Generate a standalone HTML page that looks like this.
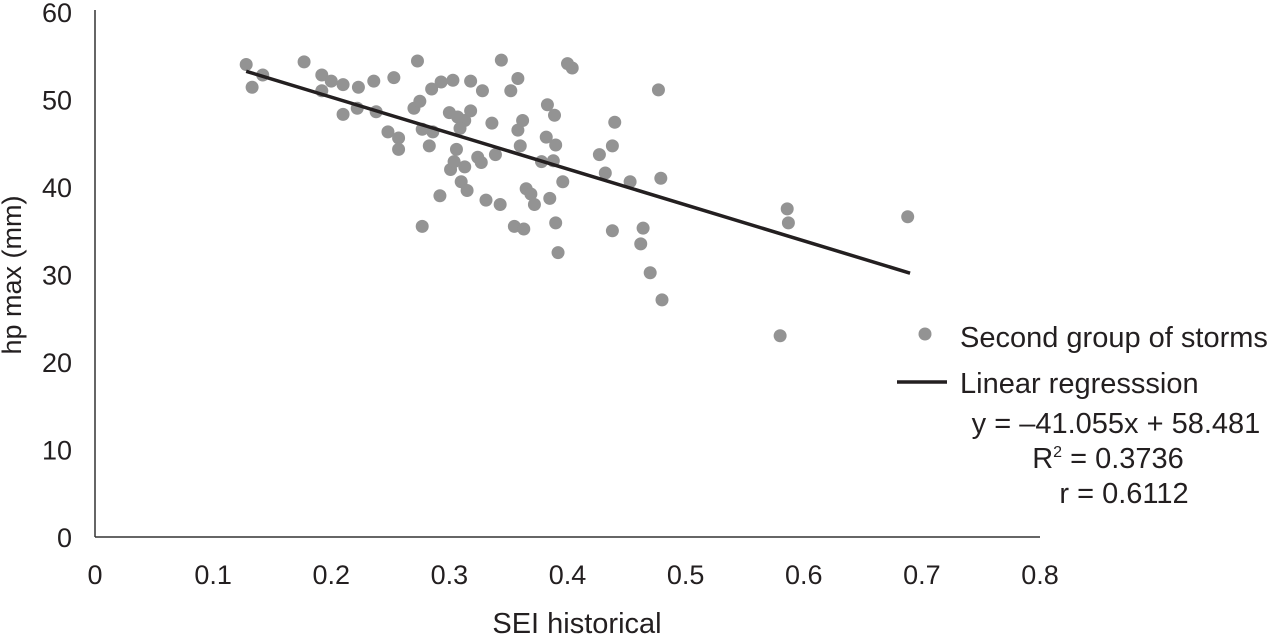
<!DOCTYPE html>
<html><head><meta charset="utf-8"><style>
body{margin:0;background:#fff;}
svg{display:block;font-family:"Liberation Sans",Arial,sans-serif;}
</style></head><body>
<svg id="chart" width="1272" height="634" viewBox="0 0 1272 634"></svg>
<script>
const xData=[0.128,0.133,0.142,0.177,0.192,0.2,0.192,0.21,0.223,0.236,0.253,0.21,0.222,0.238,0.248,0.257,0.257,0.27,0.275,0.273,0.285,0.293,0.303,0.318,0.328,0.344,0.352,0.358,0.277,0.283,0.286,0.292,0.277,0.3,0.307,0.313,0.318,0.309,0.301,0.304,0.306,0.31,0.313,0.315,0.324,0.327,0.331,0.336,0.339,0.343,0.355,0.358,0.36,0.362,0.363,0.365,0.369,0.372,0.378,0.382,0.383,0.385,0.388,0.389,0.39,0.39,0.392,0.396,0.4,0.404,0.427,0.432,0.438,0.438,0.44,0.453,0.462,0.464,0.47,0.477,0.479,0.48,0.58,0.586,0.587,0.688];
const yData=[54,51.4,52.8,54.3,52.8,52.1,51,51.7,51.4,52.1,52.5,48.3,49,48.6,46.3,45.6,44.3,49,49.8,54.4,51.2,52,52.2,52.1,51,54.5,51,52.4,46.6,44.7,46.3,39,35.5,48.5,48,47.6,48.7,46.7,42,42.9,44.3,40.6,42.3,39.6,43.4,42.8,38.5,47.3,43.7,38,35.5,46.5,44.7,47.6,35.2,39.8,39.2,38,42.9,45.7,49.4,38.7,43,48.2,35.9,44.8,32.5,40.6,54.1,53.6,43.7,41.6,44.7,35,47.4,40.6,33.5,35.3,30.2,51.1,41,27.1,23,37.5,35.9,36.6];
const xTicks=[0,0.1,0.2,0.3,0.4,0.5,0.6,0.7,0.8];
const yTicks=[0,10,20,30,40,50,60];
const slope=-41.055, intercept=58.481;
const fitRange=[0.128,0.69];

const NS="http://www.w3.org/2000/svg";
const svg=document.getElementById('chart');
const X=v=>95+v*1181.25;
const Y=v=>537-v*8.75;
function mk(tag,attrs,parent){const e=document.createElementNS(NS,tag);for(const k in attrs)e.setAttribute(k,attrs[k]);(parent||svg).appendChild(e);return e;}

let ax=mk('line',{x1:95,y1:10,x2:95,y2:537,stroke:'#333','stroke-width':1.5});


ax=mk('line',{x1:95,y1:537,x2:1040,y2:537,stroke:'#333','stroke-width':1.5});



xTicks.forEach(t=>{const e=mk('text',{x:X(t),y:584,'text-anchor':'middle','font-size':27,fill:'#231f20'});e.textContent=String(t);

});
yTicks.forEach(t=>{const e=mk('text',{x:72,y:Y(t)+10,'text-anchor':'end','font-size':27,fill:'#231f20'});e.textContent=String(t);

});

let t=mk('text',{x:577,y:633,'text-anchor':'middle','font-size':29,fill:'#231f20'});t.textContent='SEI historical';


t=mk('text',{x:0,y:0,'text-anchor':'middle','font-size':27,fill:'#231f20',transform:'translate(21,275) rotate(-90)'});t.textContent='hp max (mm)';



xData.forEach((x,i)=>{const c=mk('circle',{cx:X(x),cy:Y(yData[i]),r:6.5,fill:'#939393'});

});

const ln=mk('line',{x1:X(fitRange[0]),y1:Y(slope*fitRange[0]+intercept),x2:X(fitRange[1]),y2:Y(slope*fitRange[1]+intercept),stroke:'#231f20','stroke-width':3.5});



const lg=mk('g',{});


let c=mk('circle',{cx:925,cy:334,r:6.5,fill:'#939393'},lg);


t=mk('text',{x:960,y:347,'font-size':29,fill:'#231f20'},lg);t.textContent='Second group of storms';


let l=mk('line',{x1:897,y1:382,x2:947,y2:382,stroke:'#231f20','stroke-width':3.5},lg);


t=mk('text',{x:960,y:393,'font-size':29,fill:'#231f20'},lg);t.textContent='Linear regresssion';


t=mk('text',{x:1116,y:433,'text-anchor':'middle','font-size':29,fill:'#231f20'},lg);t.textContent='y = \u201341.055x + 58.481';


t=mk('text',{x:1108,y:468,'text-anchor':'middle','font-size':29,fill:'#231f20'},lg);t.innerHTML='R<tspan dy="-11" font-size="16">2</tspan><tspan dy="11"> = 0.3736</tspan>';


t=mk('text',{x:1124,y:503,'text-anchor':'middle','font-size':29,fill:'#231f20'},lg);t.textContent='r = 0.6112';


</script>
</body></html>
